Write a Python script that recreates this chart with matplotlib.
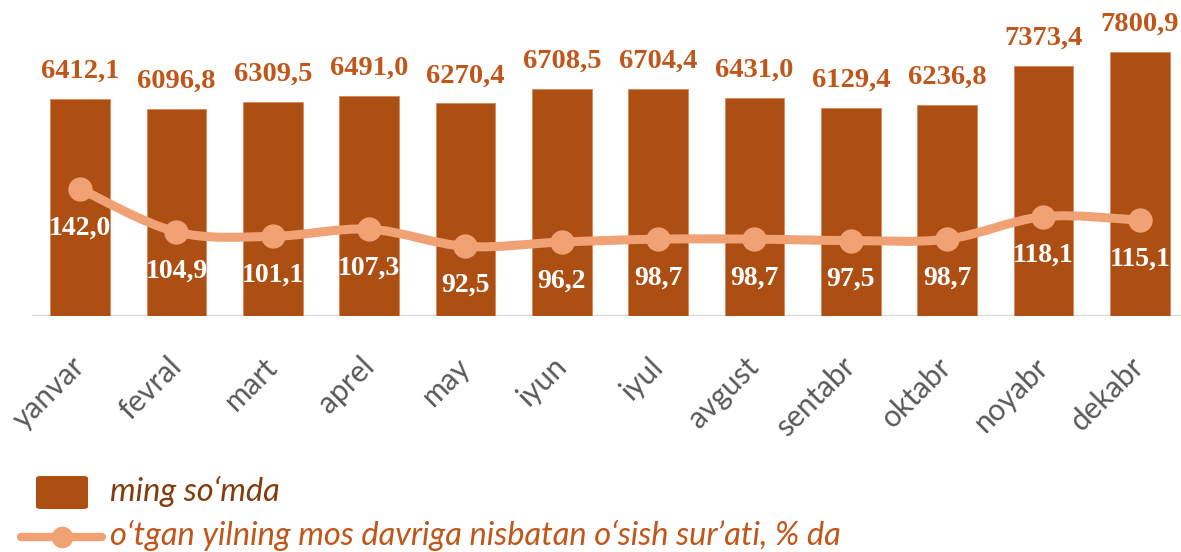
import numpy as np
import matplotlib
matplotlib.use("Agg")
import matplotlib.pyplot as plt
from matplotlib.path import Path
from matplotlib.patches import PathPatch, FancyBboxPatch
from matplotlib.lines import Line2D

# ---- data ----
months = ["yanvar", "fevral", "mart", "aprel", "may", "iyun", "iyul",
          "avgust", "sentabr", "oktabr", "noyabr", "dekabr"]
amount = [6412.1, 6096.8, 6309.5, 6491.0, 6270.4, 6708.5, 6704.4,
          6431.0, 6129.4, 6236.8, 7373.4, 7800.9]
growth = [142.0, 104.9, 101.1, 107.3, 92.5, 96.2, 98.7,
          98.7, 97.5, 98.7, 118.1, 115.1]
legend_bar = "ming so\u2018mda"
legend_line = "o\u2018tgan yilning mos davriga nisbatan o\u2018sish sur\u2019ati, % da"

def fmt(v):
    return f"{v:.1f}".replace(".", ",")

BAR = "#AD4E12"
BAR_LBL = "#C0561A"
LINE = "#F1A274"
TICK = "#595959"

W, H = 1181, 552
fig = plt.figure(figsize=(W / 100, H / 100), dpi=100)

def fx(x):
    return x / W

def fy(y):
    return 1 - y / H

left, right, top, base = 32, 1188, 0, 316
ax = fig.add_axes([fx(left), fy(base), fx(right - left), (base - top) / H])
ax.set_xlim(-0.5, len(months) - 0.5)
ax.set_ylim(0, 9324)
for s in ax.spines.values():
    s.set_visible(False)
ax.set_yticks([])
ax.tick_params(axis="x", length=0, pad=0)

x = np.arange(len(months))
bars = ax.bar(x, amount, width=0.62, color=BAR, edgecolor="#D9875A", linewidth=0.6, zorder=2)
ax.axhline(0, color="#D9D9D9", lw=1.6, zorder=1)

for xi, v in zip(x, amount):
    ax.annotate(fmt(v), (xi, v), xytext=(0, 20), textcoords="offset points",
                ha="center", va="center", color=BAR_LBL, fontsize=20.5,
                fontweight="bold", family="Liberation Serif", zorder=5)

ax.set_xticks(x)
ax.set_xticklabels([])
for xi, m in zip(x, months):
    ax.annotate(m, (xi, 0), xytext=(0, -33), textcoords="offset points",
                rotation=45, rotation_mode="anchor", ha="right", va="center",
                color=TICK, fontsize=21.5, family="Lato", annotation_clip=False)

ax2 = ax.twinx()
ax2.set_ylim(32.4, 305)
ax2.set_yticks([])
for s in ax2.spines.values():
    s.set_visible(False)

# smoothed line (Catmull-Rom -> cubic Bezier through the data points)
px = np.array(x, dtype=float)
py = np.array(growth, dtype=float)
verts = [(px[0], py[0])]
codes = [Path.MOVETO]
n = len(px)
for i in range(n - 1):
    p0 = np.array([px[max(i - 1, 0)], py[max(i - 1, 0)]])
    p1 = np.array([px[i], py[i]])
    p2 = np.array([px[i + 1], py[i + 1]])
    p3 = np.array([px[min(i + 2, n - 1)], py[min(i + 2, n - 1)]])
    c1 = p1 + (p2 - p0) / 6.0
    c2 = p2 - (p3 - p1) / 6.0
    verts += [tuple(c1), tuple(c2), tuple(p2)]
    codes += [Path.CURVE4] * 3
patch = PathPatch(Path(verts, codes), facecolor="none", edgecolor=LINE,
                  lw=6.5, capstyle="round", joinstyle="round", zorder=3)
ax2.add_patch(patch)
ax2.plot(px, py, linestyle="none", marker="o", markersize=16.5, color=LINE, zorder=4)

for xi, v in zip(px, py):
    ax2.annotate(fmt(v), (xi, v), xytext=(0, -28), textcoords="offset points",
                 ha="center", va="center", color="white", fontsize=20,
                 fontweight="bold", family="Liberation Serif", zorder=6)

# ---- legend (drawn manually) ----
sq = FancyBboxPatch((fx(36), fy(509)), fx(88 - 36), (509 - 476) / H,
                    boxstyle="round,pad=0,rounding_size=0.004",
                    transform=fig.transFigure, facecolor=BAR, edgecolor="none")
fig.add_artist(sq)
fig.text(fx(110), fy(491), legend_bar, color="#843C0C", fontsize=23.5,
         style="italic", family="Lato", ha="left", va="center")
fig.add_artist(Line2D([fx(21), fx(102)], [fy(537), fy(537)], transform=fig.transFigure,
                      color=LINE, lw=6, solid_capstyle="round"))
fig.add_artist(Line2D([fx(62)], [fy(537)], transform=fig.transFigure,
                      color=LINE, marker="o", markersize=14.5, linestyle="none"))
fig.text(fx(110), fy(535), legend_line, color=BAR_LBL, fontsize=23.5,
         style="italic", family="Lato", ha="left", va="center")

fig.savefig("out.png", dpi=100)
